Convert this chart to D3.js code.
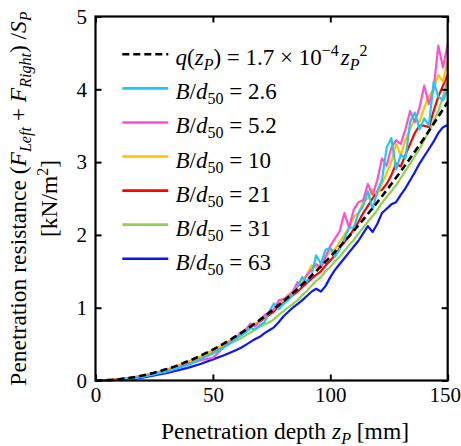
<!DOCTYPE html>
<html>
<head>
<meta charset="utf-8">
<script src="https://cdn.jsdelivr.net/npm/d3@7/dist/d3.min.js"></script>
<style>
  html, body { margin: 0; padding: 0; background: #fff; }
</style>
</head>
<body>
<svg id="chart"></svg>
<script>
// ── data ──
const depth = [0, 5, 10, 15, 20, 25, 30, 35, 40, 45, 50, 55,
    60, 62, 64, 66, 68, 70, 72, 74, 76, 78, 80, 82, 84, 86, 88, 90, 92, 94, 96, 98,
    100, 102, 104, 106, 108, 110, 112, 114, 116, 118, 120, 122, 124, 126, 128, 130,
    132, 134, 136, 138, 140, 142, 144, 146, 148, 150];

const bd26 = [0, 0, 0.01, 0.025, 0.05, 0.085, 0.12, 0.17, 0.22, 0.3, 0.37, 0.46,
    0.58, 0.62, 0.66, 0.72, 0.7, 0.76, 0.8, 0.95, 1.06, 0.98, 1.05, 1.1, 1.18, 1.28, 1.42, 1.36, 1.45, 1.72, 1.6, 1.8,
    1.82, 1.7, 1.8, 1.95, 2.1, 2.1, 2.3, 2.4, 2.6, 2.35, 2.6, 2.75, 3.2, 3.33, 2.9, 3.1,
    3.05, 3.55, 3.68, 3.45, 3.6, 3.5, 4.1, 3.9, 3.85, 4.0];
const bd52 = [0, 0.003, 0.013, 0.03, 0.055, 0.09, 0.13, 0.18, 0.23, 0.28, 0.31, 0.47,
    0.6, 0.65, 0.7, 0.78, 0.74, 0.82, 0.9, 0.93, 0.98, 1.1, 1.12, 1.15, 1.22, 1.35, 1.3, 1.45, 1.52, 1.6, 1.55, 1.7,
    1.85, 1.95, 2.05, 2.3, 2.1, 2.35, 2.45, 2.48, 2.7, 2.55, 2.75, 3.05, 2.95, 3.2, 3.3, 3.25,
    3.45, 3.7, 3.55, 3.75, 4.05, 3.8, 4.0, 4.6, 4.3, 4.62];
const bd10 = [0, 0.004, 0.016, 0.035, 0.063, 0.1, 0.145, 0.2, 0.26, 0.33, 0.41, 0.5,
    0.6, 0.66, 0.7, 0.74, 0.78, 0.82, 0.88, 0.92, 0.98, 1.05, 1.1, 1.18, 1.22, 1.3, 1.36, 1.45, 1.58, 1.55, 1.6, 1.7,
    1.78, 1.8, 1.9, 2.0, 2.1, 2.25, 2.3, 2.45, 2.5, 2.62, 2.55, 2.7, 2.85, 3.0, 3.25, 3.1,
    3.3, 3.45, 3.6, 3.55, 3.75, 3.9, 4.0, 4.2, 4.1, 4.4];
const bd21 = [0, 0.004, 0.016, 0.035, 0.063, 0.1, 0.145, 0.2, 0.26, 0.33, 0.41, 0.5,
    0.6, 0.63, 0.68, 0.73, 0.77, 0.81, 0.86, 0.9, 0.95, 1.02, 1.07, 1.12, 1.17, 1.22, 1.28, 1.34, 1.4, 1.45, 1.5, 1.58,
    1.65, 1.72, 1.82, 1.9, 1.98, 2.08, 2.18, 2.3, 2.4, 2.5, 2.6, 2.62, 2.7, 2.82, 2.98, 2.94,
    3.1, 3.25, 3.4, 3.5, 3.5, 3.48, 3.7, 3.9, 4.05, 4.2];
const bd31 = [0, 0.003, 0.014, 0.032, 0.06, 0.095, 0.14, 0.19, 0.25, 0.32, 0.39, 0.47,
    0.55, 0.58, 0.62, 0.66, 0.7, 0.74, 0.77, 0.8, 0.84, 0.9, 0.95, 1.0, 1.05, 1.1, 1.17, 1.23, 1.3, 1.37, 1.42, 1.5,
    1.56, 1.64, 1.7, 1.78, 1.86, 1.93, 2.02, 2.1, 2.18, 2.26, 2.34, 2.44, 2.52, 2.6, 2.68, 2.78,
    2.88, 2.98, 3.08, 3.18, 3.3, 3.42, 3.56, 3.7, 3.9, 4.12];
const bd63 = [0, 0, 0.01, 0.02, 0.04, 0.07, 0.1, 0.14, 0.18, 0.23, 0.29, 0.35,
    0.42, 0.45, 0.49, 0.53, 0.57, 0.6, 0.65, 0.69, 0.73, 0.8, 0.88, 0.94, 1.0, 1.05, 1.1, 1.16, 1.22, 1.26, 1.22, 1.3,
    1.42, 1.52, 1.6, 1.68, 1.76, 1.84, 1.92, 2.02, 2.12, 2.04, 2.15, 2.3, 2.36, 2.42, 2.45, 2.55,
    2.64, 2.75, 2.86, 2.98, 3.08, 3.18, 3.28, 3.4, 3.48, 3.51];

// fitted curve q(zP) = 1.7e-4 zP^2, read at 10 mm steps
const fitDepth = [0, 10, 20, 30, 40, 50, 60, 70, 80, 90, 100, 110, 120, 130, 140, 150];
const fitVals = [0, 0.017, 0.068, 0.153, 0.272, 0.425, 0.612, 0.833, 1.088, 1.377,
    1.7, 2.057, 2.448, 2.873, 3.332, 3.825];

const seriesLabels = ['2.6', '5.2', '10', '21', '31', '63'];
const seriesColors = ['#1ec8f5', '#ff4fd0', '#ffc000', '#ff0000', '#92d050', '#0a14ff'];
const seriesValues = [bd26, bd52, bd10, bd21, bd31, bd63];

const xTicks = [0, 50, 100, 150];
const yTicks = [0, 1, 2, 3, 4, 5];

// ── layout ──
const W = 461, H = 446;
const M = { left: 95.5, right: 13.3, top: 16.5, bottom: 65.5 };
const iw = W - M.left - M.right, ih = H - M.top - M.bottom;
const FONT = 'Liberation Serif';

const svg = d3.select('#chart').attr('width', W).attr('height', H);
const g = svg.append('g').attr('transform', `translate(${M.left},${M.top})`);

const x = d3.scaleLinear().domain([0, 150]).range([0, iw]);
const y = d3.scaleLinear().domain([0, 5]).range([ih, 0]);

const line = d3.line().x(d => x(d[0])).y(d => y(d[1]));

// draw order: blue at the bottom, cyan near the top, fit on top
const order = [5, 4, 3, 2, 1, 0];
order.forEach(i => {
    g.append('path')
        .datum(depth.map((z, k) => [z, seriesValues[i][k]]))
        .attr('fill', 'none')
        .attr('stroke', seriesColors[i])
        .attr('stroke-width', 2.2)
        .attr('stroke-linejoin', 'round')
        .attr('d', line);
});

g.append('path')
    .datum(fitDepth.map((z, k) => [z, fitVals[k]]))
    .attr('fill', 'none')
    .attr('stroke', '#000')
    .attr('stroke-width', 2.6)
    .attr('stroke-dasharray', '7,4')
    .attr('d', line.curve(d3.curveMonotoneX));

// ── axes (ticks inward on all four sides) ──
const tickFont = 21;
const styleAxis = sel => {
    sel.attr('font-family', FONT).attr('font-size', tickFont);
    sel.select('.domain').remove();
    sel.selectAll('line').attr('stroke', '#000').attr('stroke-width', 2);
    sel.selectAll('text').attr('font-family', FONT).attr('fill', '#000');
};

g.append('g').attr('transform', `translate(0,${ih})`)
    .call(d3.axisBottom(x).tickValues(xTicks).tickSize(-6).tickPadding(6.3).tickFormat(d3.format('d')))
    .call(styleAxis)
    .selectAll('text').attr('dx', d => d === 150 ? -3 : 0);
g.append('g')
    .call(d3.axisTop(x).tickValues(xTicks).tickSize(-6).tickFormat(''))
    .call(styleAxis);
g.append('g')
    .call(d3.axisLeft(y).tickValues(yTicks).tickSize(-6).tickPadding(8.5).tickFormat(d3.format('d')))
    .call(styleAxis);
g.append('g').attr('transform', `translate(${iw},0)`)
    .call(d3.axisRight(y).tickValues(yTicks).tickSize(-6).tickFormat(''))
    .call(styleAxis);

g.append('rect')
    .attr('width', iw).attr('height', ih)
    .attr('fill', 'none').attr('stroke', '#000').attr('stroke-width', 2.2);

// ── legend ──
const legFont = 23, subFont = 16;
const legend = svg.append('g');
const legY0 = 54.3, legStep = 34.07, legX1 = 122.3, legX2 = 168.3, legTx = 175.5;

legend.append('line')
    .attr('x1', legX1).attr('x2', legX2).attr('y1', legY0).attr('y2', legY0)
    .attr('stroke', '#000').attr('stroke-width', 2.6).attr('stroke-dasharray', '7,4');

const fitText = legend.append('text')
    .attr('x', legTx).attr('y', legY0 + 11).attr('font-size', legFont).attr('font-family', FONT);
fitText.append('tspan').attr('font-style', 'italic').text('q');
fitText.append('tspan').text('(');
fitText.append('tspan').attr('font-style', 'italic').text('z');
fitText.append('tspan').attr('font-style', 'italic').attr('font-size', subFont).attr('dy', 5).text('P');
fitText.append('tspan').attr('dy', -5).text(') = 1.7 × 10');
fitText.append('tspan').attr('font-size', subFont).attr('dy', -9).text('−4');
fitText.append('tspan').attr('font-style', 'italic').attr('dy', 9).attr('dx', 2).text('z');
fitText.append('tspan').attr('font-style', 'italic').attr('font-size', subFont).attr('dy', 5).text('P');
fitText.append('tspan').attr('font-size', subFont).attr('dy', -14).text('2');

seriesLabels.forEach((lab, i) => {
    const ly = legY0 + legStep * (i + 1);
    legend.append('line')
        .attr('x1', legX1).attr('x2', legX2).attr('y1', ly).attr('y2', ly)
        .attr('stroke', seriesColors[i]).attr('stroke-width', 2.6);
    const t = legend.append('text')
        .attr('x', legTx).attr('y', ly + 11).attr('font-size', legFont).attr('font-family', FONT);
    t.append('tspan').attr('font-style', 'italic').text('B');
    t.append('tspan').text('/');
    t.append('tspan').attr('font-style', 'italic').text('d');
    t.append('tspan').attr('font-size', subFont).attr('dy', 5).text('50');
    t.append('tspan').attr('dy', -5).text(' = ' + lab);
});

// ── axis titles ──
const titleFont = 23.5;
const xTitle = svg.append('text')
    .attr('x', 285).attr('y', 439).attr('text-anchor', 'middle')
    .attr('font-size', titleFont).attr('font-family', FONT);
xTitle.append('tspan').text('Penetration depth ');
xTitle.append('tspan').attr('font-style', 'italic').text('z');
xTitle.append('tspan').attr('font-style', 'italic').attr('font-size', subFont).attr('dy', 5).text('P');
xTitle.append('tspan').attr('dy', -5).text(' [mm]');

const yTitle = svg.append('text')
    .attr('transform', `translate(26,198.5) rotate(-90)`)
    .attr('text-anchor', 'middle').attr('font-size', titleFont).attr('font-family', FONT);
yTitle.append('tspan').text('Penetration resistance (');
yTitle.append('tspan').attr('font-style', 'italic').text('F');
yTitle.append('tspan').attr('font-style', 'italic').attr('font-size', subFont).attr('dy', 5).text('Left');
yTitle.append('tspan').attr('dy', -5).text(' + ');
yTitle.append('tspan').attr('font-style', 'italic').text('F');
yTitle.append('tspan').attr('font-style', 'italic').attr('font-size', subFont).attr('dy', 5).text('Right');
yTitle.append('tspan').attr('dy', -5).text(') /');
yTitle.append('tspan').attr('font-style', 'italic').text('S');
yTitle.append('tspan').attr('font-style', 'italic').attr('font-size', subFont).attr('dy', 5).text('P');

const yTitle2 = svg.append('text')
    .attr('transform', `translate(57,198.5) rotate(-90)`)
    .attr('text-anchor', 'middle').attr('font-size', titleFont).attr('font-family', FONT);
yTitle2.append('tspan').text('[kN/m');
yTitle2.append('tspan').attr('font-size', subFont).attr('dy', -9).text('2');
yTitle2.append('tspan').attr('dy', 9).text(']');
</script>
</body>
</html>
